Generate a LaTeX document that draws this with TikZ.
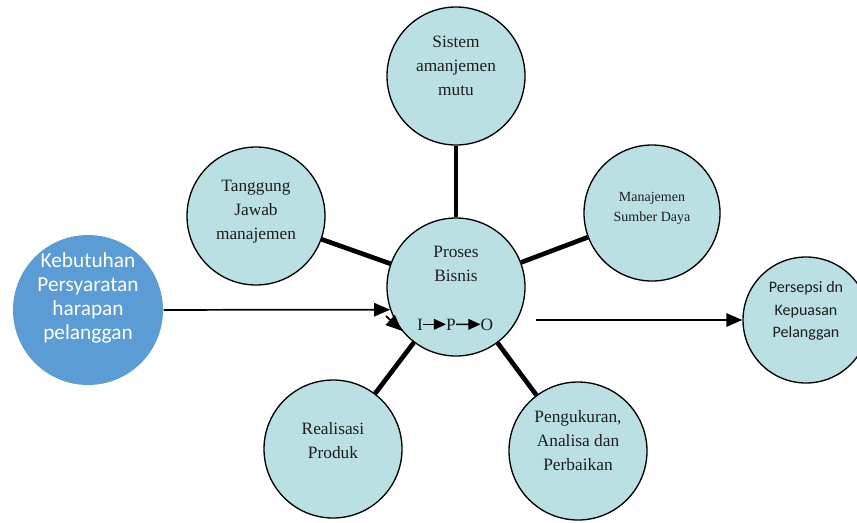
\documentclass[tikz,border=0pt]{standalone}
\usepackage{fontspec}
\setmainfont{Liberation Serif}
\newfontfamily\calibri{Carlito}
\usepackage{tikz}
\usetikzlibrary{arrows.meta}

\definecolor{bubble}{RGB}{186,224,228}
\definecolor{needblue}{RGB}{92,156,213}
\definecolor{inkgrey}{RGB}{30,30,30}

\begin{document}
\begin{tikzpicture}[x=0.75pt,y=-0.75pt,
  bub/.style={circle,draw=black,line width=1pt,fill=bubble,inner sep=0pt},
  txt/.style={align=center,text=inkgrey,inner sep=0pt,font=\fontsize{13}{18}\selectfont},
  spoke/.style={line width=3.5pt},
  flow/.style={line width=1.3pt,-{Triangle[length=12pt,width=10pt]}},
  ipo/.style={line width=1pt,-{Triangle[length=9pt,width=8pt]}}]
\useasboundingbox (0,0) rectangle (857,522);
% circles
\node[bub,minimum size=103.5pt] (pb) at (456,287) {};
\node[bub,minimum size=103.5pt] (sm) at (456,76) {};
\node[bub,minimum size=103.5pt] (tj) at (256,216) {};
\node[bub,minimum size=102pt] (msd) at (652,213) {};
\node[bub,minimum size=103.5pt] (rp) at (333,449) {};
\node[bub,minimum size=103.5pt] (pap) at (578,451) {};
\node[bub,minimum size=94.5pt] (per) at (806,320) {};
\node[bub,draw=none,fill=needblue,minimum size=112.5pt] (keb) at (88,310) {};
% texts
\node[txt] (pbt) at (456,264) {Proses\\Bisnis};
\node[txt] (smt) at (456,66) {Sistem\\amanjemen\\mutu};
\node[txt] (tjt) at (256,212) {Tanggung\\Jawab\\manajemen};
\node[txt,font=\fontsize{10.5}{15}\selectfont] (msdt) at (652,208) {Manajemen\\Sumber Daya};
\node[txt] (rpt) at (333,441) {Realisasi\\Produk};
\node[txt] (papt) at (578,441) {Pengukuran,\\Analisa dan\\Perbaikan};
\node[txt,font=\calibri\fontsize{12}{17}\selectfont] (pert) at (806,311) {Persepsi dn\\Kepuasan\\Pelanggan};
\node[txt,text=white,font=\calibri\fontsize{16}{18}\selectfont] (kebt) at (88,298) {Kebutuhan\\Persyaratan\\harapan\\pelanggan};
% I -> P -> O
\node[txt,anchor=base] (i) at (420,330) {I};
\node[txt,anchor=base] (p) at (451,330) {P};
\node[txt,anchor=base] (o) at (487,330) {O};
\draw[ipo] (i) -- (p);
\draw[ipo] (p) -- (o);
% spokes
\draw[spoke] (pb) -- (sm);
\draw[spoke] (pb) -- (tj);
\draw[spoke] (pb) -- (msd);
\draw[spoke] (pb) -- (rp);
\draw[spoke] (pb) -- (pap);
% input / output
\coordinate (pbout) at (536,320);
\coordinate (loopin) at (386,316);
\draw[flow] (keb) -- (pb.199);
\draw[flow] (loopin) -- (pb.219);
\draw[flow] (pbout) -- (per);
\end{tikzpicture}
\end{document}
